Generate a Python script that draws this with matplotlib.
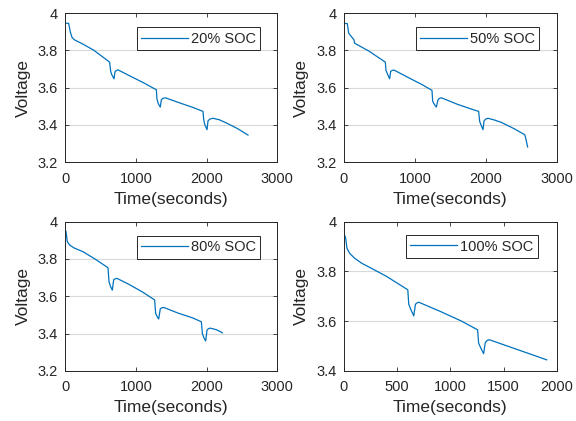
import matplotlib
matplotlib.use('Agg')
import matplotlib.pyplot as plt
import numpy as np

plt.rcParams['font.family'] = ['Liberation Sans', 'DejaVu Sans']

# discharge curves: time (s), voltage (V)
t20 = [0, 47, 70, 95, 130, 250, 400, 627, 642, 660, 689, 703, 720, 745, 900, 1100, 1288,
       1297, 1315, 1344, 1358, 1380, 1415, 1600, 1800, 1948, 1958, 1975, 2005, 2019, 2045,
       2090, 2180, 2278, 2430, 2585]
v20 = [3.946, 3.946, 3.90, 3.87, 3.857, 3.834, 3.802, 3.7375, 3.6875, 3.668, 3.648, 3.685, 3.692,
       3.696, 3.666, 3.628, 3.589, 3.539, 3.515, 3.496, 3.535, 3.543, 3.546, 3.521, 3.495,
       3.473, 3.429, 3.40, 3.375, 3.422, 3.432, 3.436, 3.428, 3.411, 3.382, 3.346]

t50 = [0, 47, 66, 103, 141, 150, 174, 350, 583, 592, 615, 644, 658, 680, 705, 900, 1100,
       1241, 1251, 1275, 1302, 1326, 1345, 1373, 1600, 1800, 1899, 1913, 1935, 1961, 1975,
       2000, 2031, 2120, 2219, 2400, 2548, 2557, 2590]
v50 = [3.946, 3.944, 3.893, 3.875, 3.857, 3.839, 3.834, 3.797, 3.7375, 3.693, 3.672, 3.648,
       3.6875, 3.693, 3.695, 3.656, 3.617, 3.586, 3.527, 3.51, 3.496, 3.535, 3.543, 3.546,
       3.511, 3.485, 3.473, 3.42, 3.398, 3.375, 3.422, 3.432, 3.436, 3.427, 3.414, 3.38,
       3.348, 3.339, 3.282]

t80 = [0, 9, 28, 61, 120, 250, 420, 604, 618, 640, 665, 684, 705, 731, 900, 1100, 1264, 1278,
       1300, 1321, 1344, 1365, 1392, 1600, 1800, 1925, 1939, 1960, 1986, 2005, 2025, 2052,
       2140, 2222]
v80 = [3.95, 3.95, 3.893, 3.875, 3.86, 3.839, 3.80, 3.753, 3.678, 3.652, 3.633, 3.688, 3.694,
       3.696, 3.664, 3.621, 3.580, 3.508, 3.49, 3.478, 3.533, 3.538, 3.540, 3.509, 3.484,
       3.463, 3.40, 3.378, 3.36, 3.418, 3.426, 3.429, 3.42, 3.404]

t100 = [0, 6, 16, 28, 53, 100, 170, 256, 400, 600, 609, 630, 656, 672, 690, 703, 900, 1100,
        1256, 1266, 1290, 1313, 1328, 1345, 1366, 1500, 1700, 1906]
v100 = [3.946, 3.946, 3.933, 3.893, 3.873, 3.853, 3.832, 3.813, 3.78, 3.726, 3.668, 3.645,
        3.621, 3.668, 3.674, 3.676, 3.64, 3.601, 3.565, 3.511, 3.488, 3.469, 3.513, 3.522,
        3.525, 3.505, 3.475, 3.444]

labels = ['20% SOC', '50% SOC', '80% SOC', '100% SOC']

blue = '#0072BD'
dark = '#262626'

fig = plt.figure(figsize=(5.76, 4.21), dpi=100)

pos = [[0.1134, 0.6146, 0.3681, 0.3540],
       [0.5972, 0.6146, 0.3693, 0.3540],
       [0.1134, 0.1193, 0.3681, 0.3540],
       [0.5972, 0.1193, 0.3693, 0.3540]]
series = [(t20, v20), (t50, v50), (t80, v80), (t100, v100)]
legpos = [(0.918, 0.905), (0.918, 0.905), (0.918, 0.905), (0.91, 0.91)]

for i in range(4):
    ax = fig.add_axes(pos[i])
    t, v = series[i]
    ax.plot(t, v, color=blue, lw=0.9, label=labels[i])
    if i < 3:
        ax.set_xlim(0, 3000)
        ax.set_xticks([0, 1000, 2000, 3000])
        ax.set_ylim(3.2, 4)
        ax.set_yticks([3.2, 3.4, 3.6, 3.8, 4])
        ax.set_yticklabels(['3.2', '3.4', '3.6', '3.8', '4'])
    else:
        ax.set_xlim(0, 2000)
        ax.set_xticks([0, 500, 1000, 1500, 2000])
        ax.set_ylim(3.4, 4)
        ax.set_yticks([3.4, 3.6, 3.8, 4])
        ax.set_yticklabels(['3.4', '3.6', '3.8', '4'])
    ax.yaxis.grid(True, color='#d9d9d9', lw=0.8)
    ax.set_axisbelow(True)
    ax.tick_params(direction='in', top=True, right=True, length=3, width=0.6,
                   labelsize=10.5, colors=dark)
    ax.tick_params(axis='x', pad=7)
    ax.tick_params(axis='y', pad=5.5)
    for s in ax.spines.values():
        s.set_color(dark)
        s.set_linewidth(0.7)
    ax.set_xlabel('Time(seconds)', fontsize=12.5, color=dark, labelpad=4)
    ax.set_ylabel('Voltage', fontsize=12.5, color=dark, labelpad=5)
    leg = ax.legend(loc='upper right', bbox_to_anchor=legpos[i], fontsize=10.5,
                    handlelength=3.2, fancybox=False, framealpha=1,
                    edgecolor=dark, borderpad=0.3, handletextpad=0.2,
                    borderaxespad=0)
    leg.get_frame().set_linewidth(0.7)
    for txt in leg.get_texts():
        txt.set_color(dark)

fig.savefig('out.png', dpi=100)
